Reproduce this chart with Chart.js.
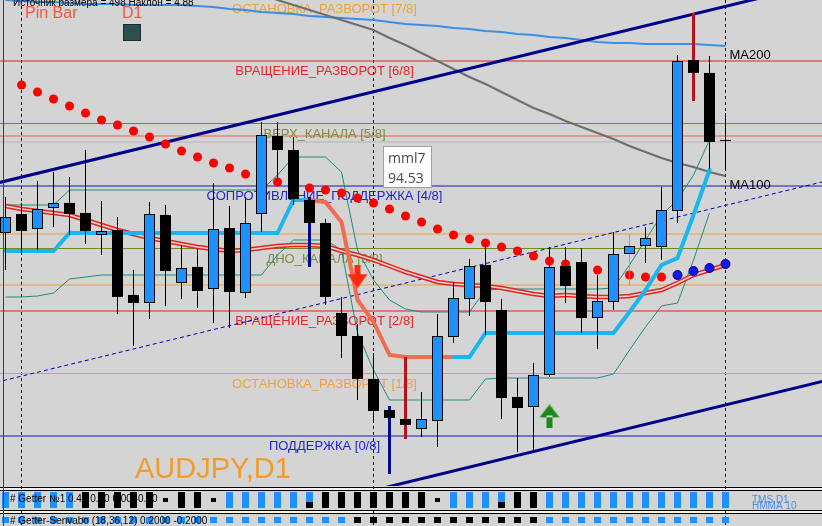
<!DOCTYPE html>
<html><head><meta charset="utf-8">
<script src="https://cdn.jsdelivr.net/npm/chart.js@4.4.1/dist/chart.umd.min.js"></script>
<style>html,body{margin:0;padding:0;background:#d4d4d4;overflow:hidden}canvas{display:block}</style>
</head><body>
<canvas id="c" width="822" height="526"></canvas>
<script>
// ---------- DATA (AUDJPY, D1) ----------
const opens  = [93.163,93.400,93.213,93.475,93.538,93.413,93.138,93.200,92.388,92.288,93.388,92.538,92.738,92.463,93.225,92.413,93.400,94.375,94.200,93.575,93.288,92.163,91.875,91.338,90.950,90.838,90.713,90.813,91.863,92.338,92.763,92.200,91.113,90.988,91.388,92.750,92.800,92.100,92.300,92.900,93.000,92.988,93.438,95.325,95.163,94.313];
const highs  = [93.613,93.538,93.813,93.925,93.863,94.200,93.563,93.363,92.700,93.550,93.513,93.000,92.963,93.788,93.500,93.613,94.550,94.550,94.363,93.613,93.338,92.363,92.025,91.663,91.000,91.613,91.175,92.150,92.550,92.838,93.038,92.338,91.350,91.538,92.988,92.988,92.975,92.638,93.175,93.150,93.238,93.738,95.388,95.913,95.375,94.663];
const lows   = [92.700,92.888,92.950,93.238,93.138,93.025,92.888,92.150,91.750,92.088,92.250,92.338,92.225,92.038,91.975,92.350,93.175,93.825,93.513,92.738,92.263,91.600,91.075,90.825,90.150,90.588,90.613,90.488,91.788,92.125,91.888,90.838,90.425,90.450,91.363,92.288,91.913,91.713,92.200,92.500,92.788,92.825,93.288,94.813,93.963,93.950];
const closes = [93.363,93.188,93.463,93.538,93.400,93.188,93.188,92.363,92.288,93.400,92.688,92.725,92.438,93.213,92.425,93.288,94.388,94.200,93.588,93.288,92.363,91.875,91.338,90.938,90.850,90.763,90.838,91.875,92.350,92.750,92.300,91.100,90.975,91.388,92.738,92.500,92.100,92.313,92.900,93.000,93.100,93.450,95.313,95.163,94.300,94.313];

const ma200 = [96.075,96.0625,96.05,96.05,96.0375,96.025,96.025,96.025,96.0125,96.0125,96.0125,96.0125,96.0,95.9875,95.9625,95.95,95.925,95.9125,95.9,95.875,95.8625,95.85,95.8375,95.825,95.8,95.775,95.7625,95.75,95.725,95.7125,95.6875,95.675,95.65,95.6375,95.6125,95.6,95.575,95.55,95.5375,95.5375,95.525,95.525,95.525,95.525,95.5125,95.5];
const ma100 = [null,null,null,null,null,null,null,null,null,null,null,null,null,null,null,null,96.1375,96.075,96.0125,95.95,95.8875,95.825,95.7625,95.7,95.6,95.5125,95.4125,95.3125,95.2125,95.1125,95.025,94.925,94.825,94.725,94.65,94.5625,94.4875,94.4125,94.3375,94.25,94.175,94.1,94.0375,93.9875,93.925,93.875];
const maSignal = [93.5,93.4625,93.4375,93.4125,93.3875,93.325,93.2625,93.2,93.15,93.1,93.0625,93.025,92.9875,92.9625,92.9375,92.95,92.975,93.0,93.0125,93.0125,93.0,92.9375,92.8875,92.825,92.75,92.675,92.6125,92.55,92.525,92.5125,92.5,92.475,92.4375,92.4,92.375,92.3875,92.375,92.3625,92.3625,92.375,92.4125,92.45,92.5375,92.6375,92.7,92.7625];
const trailUp   = [92.9375,92.9375,92.9375,92.9375,93.1625,93.1625,93.1625,93.1625,93.1625,93.1625,93.1625,93.1625,93.1625,93.1625,93.1625,93.1625,93.1625,93.1625,93.575,93.575,null,null,null,null,null,null,null,null,91.6125,91.6125,91.9125,91.9125,91.9125,91.9125,91.9125,91.9125,91.9125,91.9125,91.9125,92.175,92.45,92.7625,92.85,93.3875,93.95,null];
const trailDown = [null,null,null,null,null,null,null,null,null,null,null,null,null,null,null,null,null,null,null,93.575,93.55,93.3,92.325,92.05,91.6375,91.6125,91.6125,91.6125,91.6125,null,null,null,null,null,null,null,null,null,null,null,null,null,null,null,null,null];
const bandUpper = [93.5125,93.5125,93.5125,93.5125,93.7,93.7,93.7,93.7,93.7,93.7,93.7,93.7,93.7,93.7,93.7,93.7,93.7,93.8875,94.1125,94.1125,94.1125,93.925,92.95,92.575,92.325,92.2125,92.175,92.175,92.175,92.175,92.45,92.4625,92.4625,92.4625,92.4625,92.4625,92.4625,92.4625,92.475,92.7625,93.075,93.3875,93.575,93.8875,94.325,null];
const bandLower = [92.3625,92.3625,92.375,92.4125,92.5875,92.6125,92.6375,92.6375,92.6375,92.6375,92.6375,92.6375,92.6375,92.6375,92.6375,92.6375,92.6375,92.8875,93.075,93.075,93.075,92.95,91.9125,91.45,91.075,91.075,91.075,91.075,91.075,91.075,91.3375,91.35,91.35,91.35,91.35,91.35,91.35,91.35,91.4,91.7,91.9875,92.25,92.2875,92.825,93.4125,null];
const sarDown = [null,95.0125,94.925,94.8375,94.75,94.6625,94.575,94.5125,94.4375,94.3625,94.275,94.1875,94.1125,94.0375,93.975,93.9,93.85,93.8,93.7625,93.725,93.7,93.6625,93.6,93.5375,93.4625,93.375,93.3,93.2125,93.1375,93.0875,93.0375,92.9875,92.9375,92.875,92.8125,92.775,92.7375,92.7,92.675,92.6375,92.6125,92.6125,null,null,null,null];
const sarUp   = [null,null,null,null,null,null,null,null,null,null,null,null,null,null,null,null,null,null,null,null,null,null,null,null,null,null,null,null,null,null,null,null,null,null,null,null,null,null,null,null,null,null,92.6375,92.6875,92.725,92.775];

const murreyLevels = [90.625,91.40625,92.1875,92.96875,93.75,94.53125,95.3125,96.09375];
const murreyNames  = ['ПОДДЕРЖКА [0/8]','ОСТАНОВКА_РАЗВОРОТ [1/8]','ВРАЩЕНИЕ_РАЗВОРОТ [2/8]','ДНО_КАНАЛА [3/8]','СОПРОТИВЛЕНИЕ_ПОДДЕРЖКА [4/8]','ВЕРХ_КАНАЛА [5/8]','ВРАЩЕНИЕ_РАЗВОРОТ [6/8]','ОСТАНОВКА_РАЗВОРОТ [7/8]'];
const extraLevels  = [94.375,94.3,93.15,92.5125];

const channelX     = [-1,52];
const channelUpper = [93.764,96.335];
const channelMid   = [91.276,93.8475];
const channelLower = [88.781,91.3525];

const periodSeparators = [1,23,45];
const pinBars = [19,24,25,43];
const sellArrow = [{x:22,y:92.61}];
const buyArrow  = [{x:34,y:90.87}];

const getter1 = ['b','b','b','b','b','k','k','k','k','k','m','k','k','m','b','b','b','b','b','x','k','k','k','k','k','k','k','m','b','b','b','x','k','k','b','b','b','b','b','b','b','b','b','b','b','b'];
const getter2 = ['b','b','b','b','b','b','b','b','b','b','b','b','b','b','b','b','b','b','b','b','b','b','k','k','k','k','k','k','k','k','k','k','k','k','b','b','b','b','b','b','b','b','b','b','b','b'];

const symbolText = 'AUDJPY,D1';
const infoText = 'Источник размера = 498 Наклон = 4.88';
const tipName = 'mml7', tipValue = '94.53';

// ---------- STYLES ----------
const murreyLineColors = ['#1414c8','#f0a030','#e02424','#6b8e23','#1414c8','#6b8e23','#e02424','#f0a030'];
const murreyTextColors = ['#2424d0','#f0a33a','#e42828','#7a8f3c','#2424d0','#7a8f3c','#e42828','#f0a33a'];
const extraColors = ['#e8643c','#b4b4b4','#f0a030','#f0a030'];
const pinWickColors = {19:'#000a8c',24:'#000a8c',25:'#b4141e',43:'#b4141e'};
const wickColors = {39:'#e0952a'};
const LABEL_K = 20;

function arrowImg(color, down){
  const c = document.createElement('canvas'); c.width = 22; c.height = 24;
  const g = c.getContext('2d'); g.fillStyle = color; g.beginPath();
  if (down){ g.rect(8,0,6,12); g.moveTo(1,9); g.lineTo(21,9); g.lineTo(11,23); }
  else { g.moveTo(11,0); g.lineTo(1,13); g.lineTo(21,13); g.rect(8,11,6,13); }
  g.fill(); return c;
}

const idx = opens.map((_, k) => k);
const series = arr => arr.map((v, k) => ({x:k, y:v}));
const two = (xs, ys) => xs.map((v, i) => ({x:v, y:ys[i]}));
const lineDs = (data, color, width, order, extra) => Object.assign({type:'line', data, borderColor:color, borderWidth:width, pointRadius:0, tension:0, order, spanGaps:false}, extra || {});
const barBase = {type:'bar', grouped:false, barPercentage:1, categoryPercentage:1, inflateAmount:0, borderSkipped:false};

const datasets = [];
murreyLevels.forEach((p, i) => datasets.push(lineDs(two(channelX, [p, p]), murreyLineColors[i], 1, 100 + i)));
extraLevels.forEach((p, i) => datasets.push(lineDs(two(channelX, [p, p]), extraColors[i], 1, 108 + i)));
datasets.push(lineDs(series(ma200), '#3a8ee6', 2, 60));
datasets.push(lineDs(series(ma100), '#6e6e6e', 2, 59));
datasets.push(lineDs(two(channelX, channelUpper), '#00008c', 3, 55));
datasets.push(lineDs(two(channelX, channelLower), '#00008c', 3, 55));
datasets.push(lineDs(two(channelX, channelMid), '#0000b4', 1, 55, {borderDash:[4,3]}));
datasets.push(lineDs(series(bandUpper), '#1f8c7c', 1, 52));
datasets.push(lineDs(series(bandLower), '#1f8c7c', 1, 52));
datasets.push(lineDs(series(maSignal), '#e02420', 4.5, 50));
datasets.push(lineDs(series(maSignal), '#f4d2cc', 1.5, 49));
datasets.push(lineDs(series(trailUp), '#1cb6ee', 4, 40, {borderCapStyle:'round'}));
datasets.push(lineDs(series(trailDown), '#f36b4f', 4, 40, {borderCapStyle:'round'}));
datasets.push(lineDs(series(sarDown), '#ff0000', 0, 30, {showLine:false, pointRadius:4.5, pointBackgroundColor:'#ff0000', pointBorderWidth:0}));
datasets.push(lineDs(series(sarUp), '#0000f0', 0, 30, {showLine:false, pointRadius:4.5, pointBackgroundColor:'#1414f0', pointBorderColor:'#000080', pointBorderWidth:1}));
datasets.push(Object.assign({}, barBase, {
  data: idx.filter(k => !pinBars.includes(k)).map(k => ({x:k, y:[lows[k], highs[k]]})),
  backgroundColor: c => (c.raw && wickColors[c.raw.x]) || '#000', maxBarThickness:1, order:20}));
datasets.push(Object.assign({}, barBase, {
  data: pinBars.map(k => ({x:k, y:[lows[k], highs[k]]})),
  backgroundColor: c => (c.raw && pinWickColors[c.raw.x]) || '#000', maxBarThickness:3, order:19}));
datasets.push(Object.assign({}, barBase, {
  data: idx.filter(k => closes[k] > opens[k]).map(k => ({x:k, y:[opens[k], closes[k]]})),
  backgroundColor:'#1e90ff', borderColor:'#000', borderWidth:1, maxBarThickness:11, order:10}));
datasets.push(Object.assign({}, barBase, {
  data: idx.filter(k => closes[k] <= opens[k]).map(k => ({x:k, y:[opens[k], closes[k]]})),
  backgroundColor:'#000', borderWidth:0, maxBarThickness:11, minBarLength:1, order:11}));
datasets.push(lineDs(sellArrow, '#ff2a0a', 0, 5, {showLine:false, pointStyle:arrowImg('#ff2a0a', true), pointRadius:10}));
datasets.push(lineDs(buyArrow, '#1b8a1b', 0, 5, {showLine:false, pointStyle:arrowImg('#1b8a1b', false), pointRadius:10}));

const FONT = '"Liberation Sans", Arial, sans-serif';
const overlay = {
  id:'overlay',
  beforeDraw(chart){
    const c = chart.ctx; c.save(); c.fillStyle = '#d4d4d4'; c.fillRect(0, 0, chart.width, chart.height); c.restore();
  },
  beforeDatasetsDraw(chart){
    const {ctx, chartArea, scales:{x}} = chart;
    ctx.save(); ctx.strokeStyle = '#000'; ctx.lineWidth = 1; ctx.setLineDash([3,3]);
    periodSeparators.forEach(k => { const px = Math.floor(x.getPixelForValue(k)) + 0.5;
      ctx.beginPath(); ctx.moveTo(px, chartArea.top); ctx.lineTo(px, chartArea.bottom); ctx.stroke(); });
    ctx.restore();
  },
  afterDatasetDraw(chart, args){
    if (chart.data.datasets[args.index].order !== 100) return;
    const {ctx, scales:{x, y}} = chart;
    ctx.save(); ctx.font = '13px ' + FONT; ctx.textAlign = 'center'; ctx.textBaseline = 'alphabetic';
    const cx = x.getPixelForValue(LABEL_K) - 1;
    murreyLevels.forEach((p, i) => { ctx.fillStyle = murreyTextColors[i]; ctx.fillText(murreyNames[i], cx, y.getPixelForValue(p) + 14); });
    ctx.restore();
  },
  afterDraw(chart){
    const {ctx, chartArea, scales:{x, y}} = chart;
    const W = chart.width;
    ctx.save();
    // sub windows
    ctx.fillStyle = '#d4d4d4'; ctx.fillRect(0, chartArea.bottom, W, chart.height - chartArea.bottom);
    ctx.fillStyle = '#f2f2f2'; ctx.fillRect(0, 488, W, 2); ctx.fillRect(0, 511, W, 2);
    ctx.fillStyle = '#000'; [487, 490, 510, 513].forEach(v => ctx.fillRect(0, v, W, 1));
    ctx.strokeStyle = '#000'; ctx.lineWidth = 1; ctx.setLineDash([3,3]);
    periodSeparators.forEach(k => { const px = Math.floor(x.getPixelForValue(k)) + 0.5;
      ctx.beginPath(); ctx.moveTo(px, chartArea.bottom); ctx.lineTo(px, chart.height); ctx.stroke(); });
    ctx.setLineDash([]);
    getter1.forEach((s, k) => {
      const px = Math.floor(x.getPixelForValue(k)) - 3;
      if (s === 'b') { ctx.fillStyle = '#1e90ff'; ctx.fillRect(px, 492, 7, 16); }
      else if (s === 'k') { ctx.fillStyle = '#000'; ctx.fillRect(px, 492, 7, 16); }
      else if (s === 'm') { ctx.fillStyle = '#000'; ctx.fillRect(px + 1, 498, 5, 4); }
      else { ctx.fillStyle = '#1e90ff'; ctx.fillRect(px, 492, 7, 10); ctx.fillStyle = '#000'; ctx.fillRect(px, 502, 7, 6); }
    });
    getter2.forEach((s, k) => {
      const px = Math.floor(x.getPixelForValue(k)) - 3;
      ctx.fillStyle = s === 'b' ? '#1e90ff' : '#000'; ctx.fillRect(px, 517, 7, 6);
    });
    ctx.font = '10px ' + FONT; ctx.fillStyle = '#000'; ctx.textAlign = 'left';
    ctx.fillText('# Getter №1 0.40 0.20 0.00 -0.00', 10, 502);
    ctx.fillText('# Getter-Senvabo (18,36,12) 0.2000 -0.2000', 10, 524);
    ctx.fillStyle = '#4a8ee0'; ctx.font = '10px ' + FONT;
    ctx.fillText('TMS D1', 752, 503); ctx.fillText('HMMA 10', 752, 509);
    // left frame
    ctx.fillStyle = '#3c3c3c'; ctx.fillRect(3, 0, 1, chart.height);
    // texts
    ctx.fillStyle = '#000'; ctx.font = '10px ' + FONT; ctx.fillText(infoText, 13, 6);
    ctx.fillStyle = '#ef5b3f'; ctx.font = '16px ' + FONT; ctx.fillText('Pin Bar', 25, 18); ctx.fillText('D1', 122, 18);
    ctx.fillStyle = '#2f4f4f'; ctx.fillRect(123, 24, 18, 17); ctx.strokeStyle = '#1c2e2e'; ctx.strokeRect(123.5, 24.5, 17, 16);
    ctx.fillStyle = '#f39c2c'; ctx.font = '29px ' + FONT; ctx.fillText(symbolText, 135, 478);
    ctx.fillStyle = '#000'; ctx.font = '13px ' + FONT;
    const lastX = x.getPixelForValue(idx.length - 1) + 4;
    ctx.fillText('MA200', lastX, y.getPixelForValue(ma200[ma200.length - 1]) + 13);
    ctx.fillText('MA100', lastX, y.getPixelForValue(ma100[ma100.length - 1]) + 13);
    // tooltip
    ctx.fillStyle = '#ffffff'; ctx.fillRect(383, 146, 49, 42);
    ctx.strokeStyle = '#a0a0a0'; ctx.strokeRect(383.5, 146.5, 48, 41);
    ctx.fillStyle = '#4a4a4a'; ctx.font = '14px "Open Sans", sans-serif';
    ctx.fillText(tipName, 388, 163); ctx.fillText(tipValue, 388, 183);
    ctx.restore();
  }
};

new Chart(document.getElementById('c'), {
  type:'line',
  data:{datasets},
  options:{
    responsive:false, animation:false, devicePixelRatio:1, events:[],
    layout:{autoPadding:false, padding:{left:0, right:0, top:0, bottom:40}},
    plugins:{legend:{display:false}, tooltip:{enabled:false}},
    scales:{
      x:{type:'linear', min:-0.34375, max:51.03125, display:false, offset:false, grid:{offset:false}},
      y:{type:'linear', min:90.0, max:96.075, display:false, beginAtZero:false}
    }
  },
  plugins:[overlay]
});
</script>
</body></html>
